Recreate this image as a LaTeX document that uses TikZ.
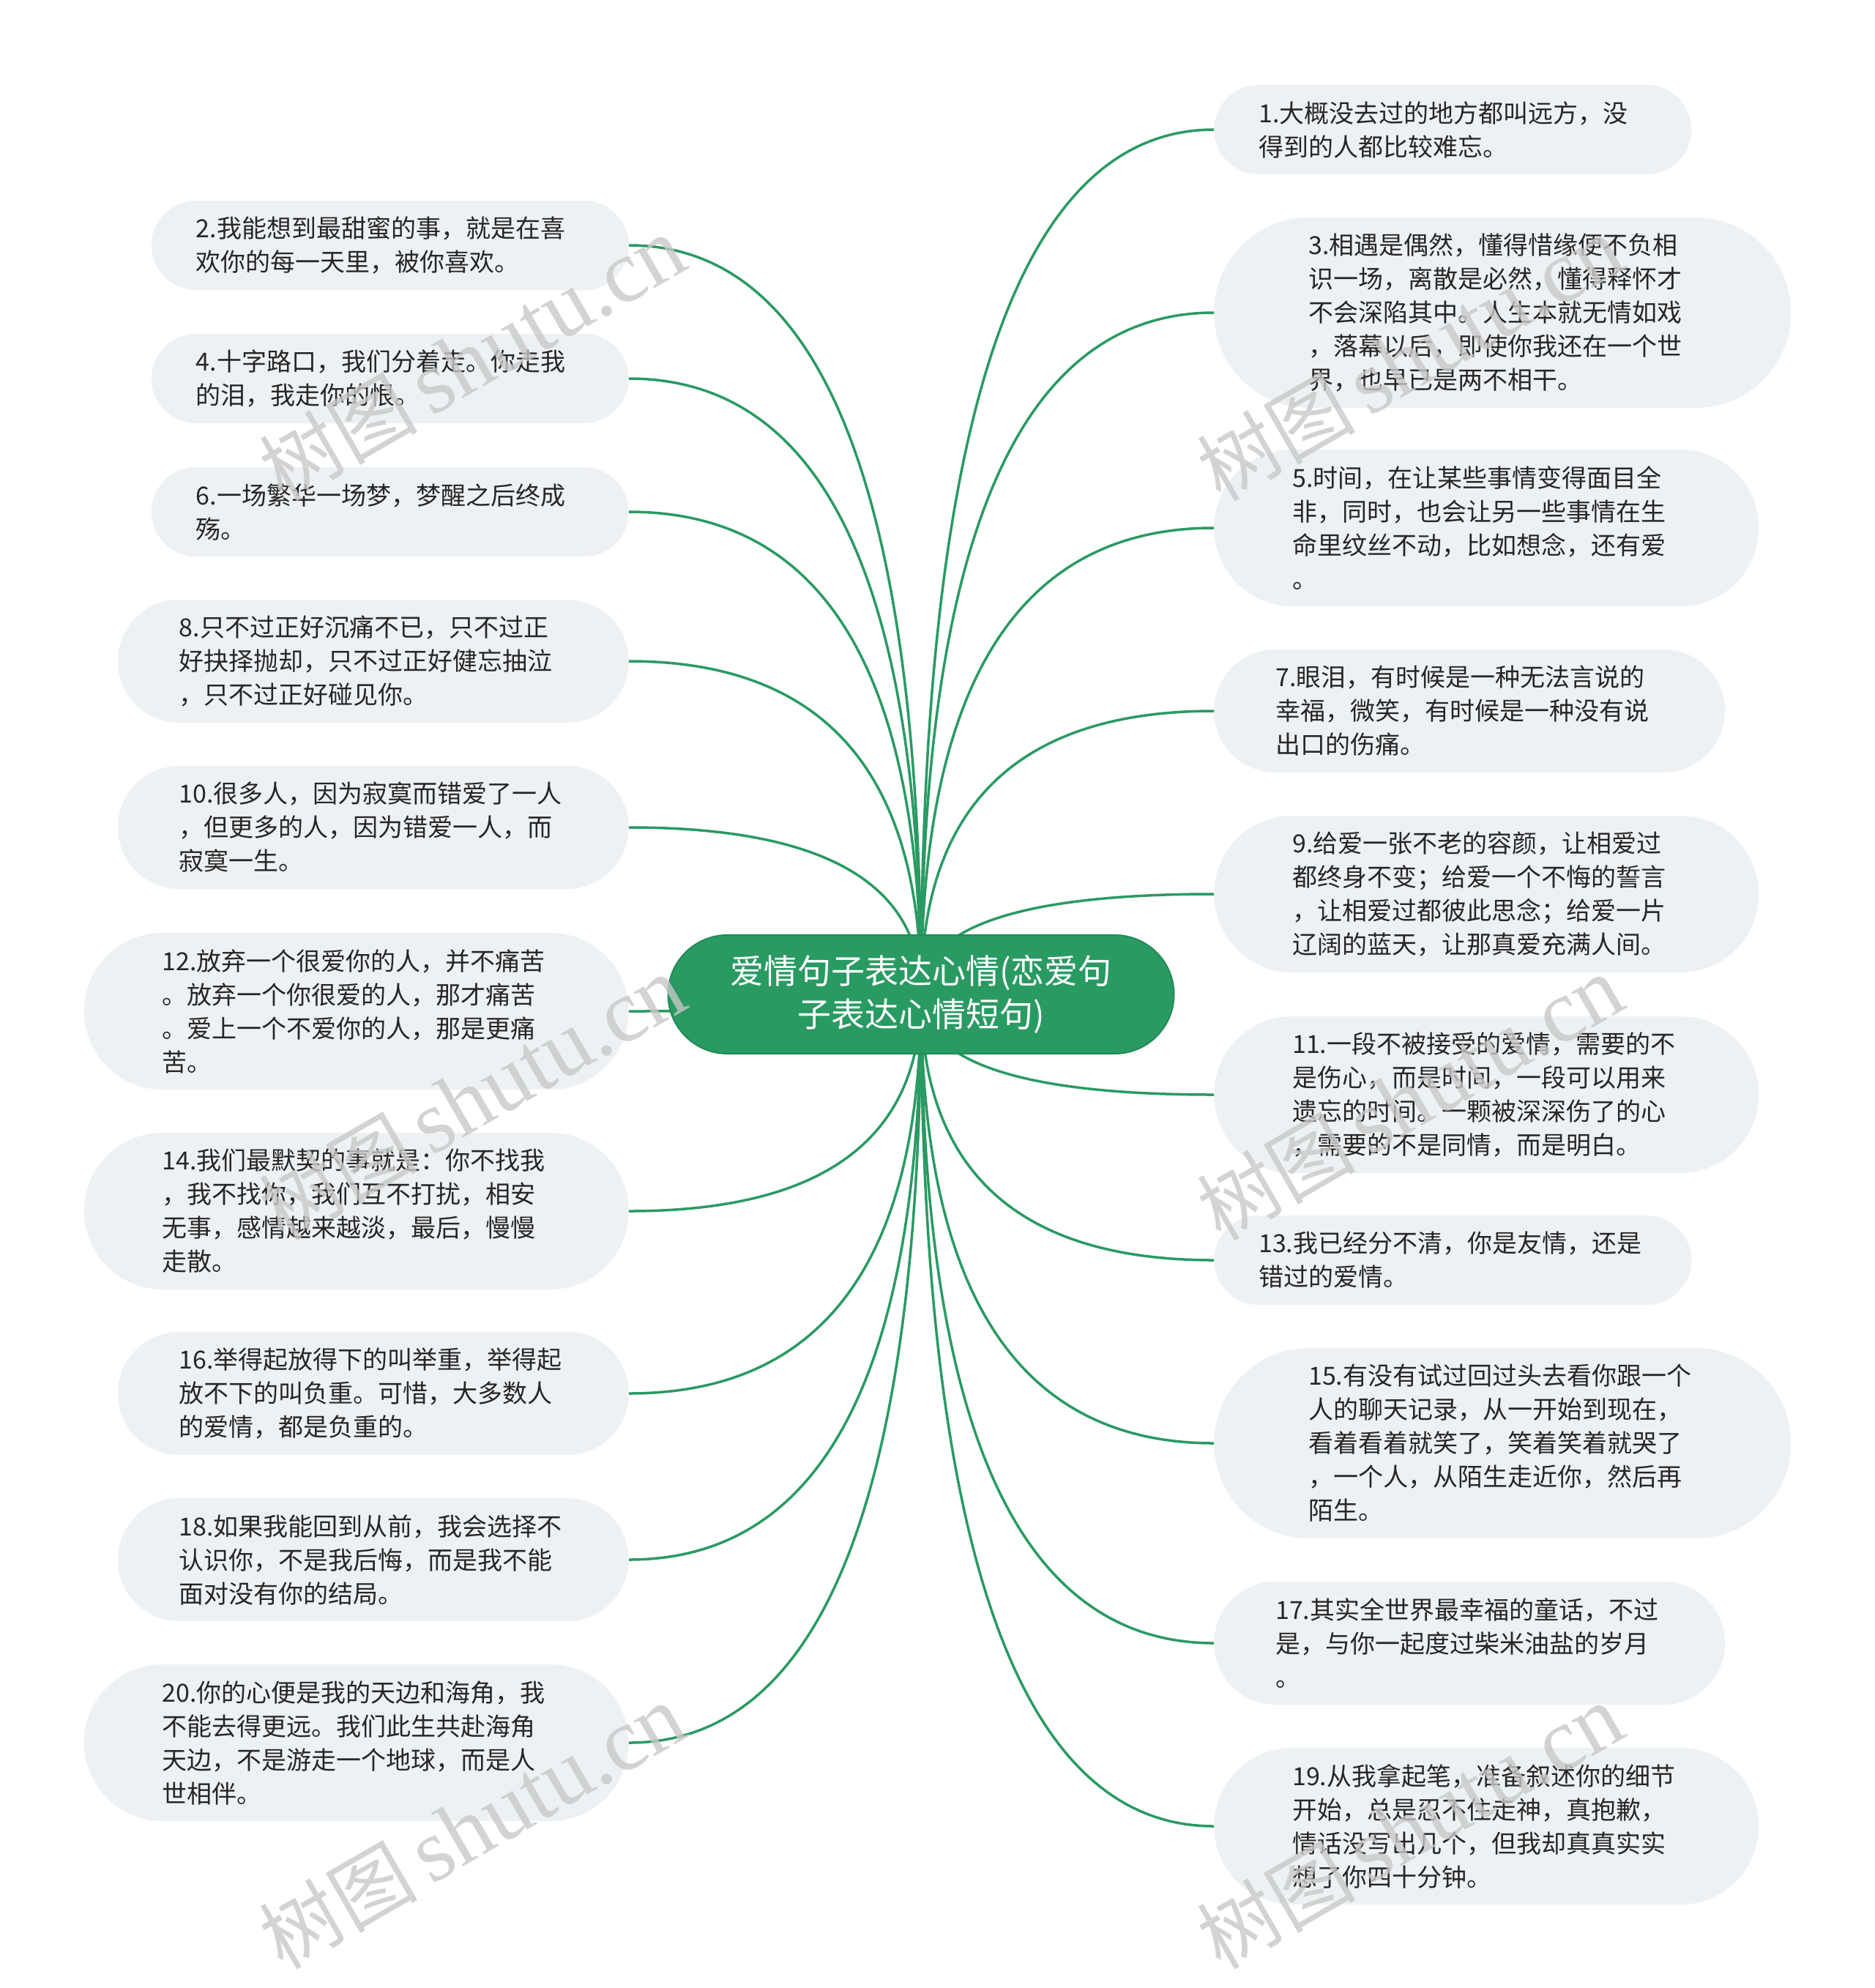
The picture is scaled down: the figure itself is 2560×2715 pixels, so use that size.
\documentclass[tikz,border=0pt]{standalone}
\usepackage{fontspec}
\newfontfamily\cjk{Noto Sans CJK SC}
\newfontfamily\wmserif{Liberation Serif}
\usetikzlibrary{calc,backgrounds}
\definecolor{leafc}{HTML}{EEF1F4}
\definecolor{greenc}{HTML}{2A9A63}
\definecolor{greenb}{HTML}{238A57}
\definecolor{txtc}{HTML}{262626}
\definecolor{wmc}{HTML}{C8C8C8}
\newcommand\linkto[2]{\draw[conn] (c.center) .. controls ($(c.center)!0.6667!(c.center|-#1.#2)$) and ($(#1.#2)!0.6667!(c.center|-#1.#2)$) .. (#1.#2);}
\begin{document}
\begin{tikzpicture}[x=1pt,y=-1pt,
  leaf/.style={fill=leafc, text=txtc, font=\cjk\fontsize{34}{46}\selectfont, text width=530pt, align=left, inner sep=0pt},
  Ltwo/.style={leaf, minimum width=652pt, minimum height=122pt, rounded corners=61pt},
  Lthree/.style={leaf, minimum width=698pt, minimum height=168pt, rounded corners=84pt},
  Lfour/.style={leaf, minimum width=744pt, minimum height=214pt, rounded corners=107pt},
  Lfive/.style={leaf, minimum width=788pt, minimum height=260pt, rounded corners=130pt},
  conn/.style={draw=greenc, line width=3.5pt},
  wm/.style={text=wmc, opacity=0.8, rotate=30, inner sep=0pt}
]
\useasboundingbox (0,0) rectangle (2560,2715);

% center
\node[fill=greenc, draw=greenb, line width=2pt, text=white, minimum width=691pt, minimum height=162pt, rounded corners=81pt, align=center, inner sep=0pt, font=\cjk\fontsize{46}{59}\selectfont] (c) at (1258,1358) {爱情句子表达心情(恋爱句\\子表达心情短句)};

% right nodes
\node[Ltwo, anchor=west] (n1) at (1658,177) {1.大概没去过的地方都叫远方，没\\得到的人都比较难忘。};
\node[Lfive, anchor=west] (n3) at (1658,427) {3.相遇是偶然，懂得惜缘便不负相\\识一场，离散是必然，懂得释怀才\\不会深陷其中。人生本就无情如戏\\，落幕以后，即使你我还在一个世\\界，也早已是两不相干。};
\node[Lfour, anchor=west] (n5) at (1658,721) {5.时间，在让某些事情变得面目全\\非，同时，也会让另一些事情在生\\命里纹丝不动，比如想念，还有爱\\。};
\node[Lthree, anchor=west] (n7) at (1658,971) {7.眼泪，有时候是一种无法言说的\\幸福，微笑，有时候是一种没有说\\出口的伤痛。};
\node[Lfour, anchor=west] (n9) at (1658,1221) {9.给爱一张不老的容颜，让相爱过\\都终身不变；给爱一个不悔的誓言\\，让相爱过都彼此思念；给爱一片\\辽阔的蓝天，让那真爱充满人间。};
\node[Lfour, anchor=west] (n11) at (1658,1495) {11.一段不被接受的爱情，需要的不\\是伤心，而是时间，一段可以用来\\遗忘的时间。一颗被深深伤了的心\\，需要的不是同情，而是明白。};
\node[Ltwo, anchor=west] (n13) at (1658,1721) {13.我已经分不清，你是友情，还是\\错过的爱情。};
\node[Lfive, anchor=west] (n15) at (1658,1971) {15.有没有试过回过头去看你跟一个\\人的聊天记录，从一开始到现在，\\看着看着就笑了，笑着笑着就哭了\\，一个人，从陌生走近你，然后再\\陌生。};
\node[Lthree, anchor=west] (n17) at (1658,2244) {17.其实全世界最幸福的童话，不过\\是，与你一起度过柴米油盐的岁月\\。};
\node[Lfour, anchor=west] (n19) at (1658,2494) {19.从我拿起笔，准备叙述你的细节\\开始，总是忍不住走神，真抱歉，\\情话没写出几个，但我却真真实实\\想了你四十分钟。};

% left nodes
\node[Ltwo, anchor=east] (n2) at (859,335) {2.我能想到最甜蜜的事，就是在喜\\欢你的每一天里，被你喜欢。};
\node[Ltwo, anchor=east] (n4) at (859,517) {4.十字路口，我们分着走。你走我\\的泪，我走你的恨。};
\node[Ltwo, anchor=east] (n6) at (859,699) {6.一场繁华一场梦，梦醒之后终成\\殇。};
\node[Lthree, anchor=east] (n8) at (859,903) {8.只不过正好沉痛不已，只不过正\\好抉择抛却，只不过正好健忘抽泣\\，只不过正好碰见你。};
\node[Lthree, anchor=east] (n10) at (859,1130) {10.很多人，因为寂寞而错爱了一人\\，但更多的人，因为错爱一人，而\\寂寞一生。};
\node[Lfour, anchor=east] (n12) at (859,1381) {12.放弃一个很爱你的人，并不痛苦\\。放弃一个你很爱的人，那才痛苦\\。爱上一个不爱你的人，那是更痛\\苦。};
\node[Lfour, anchor=east] (n14) at (859,1654) {14.我们最默契的事就是：你不找我\\，我不找你，我们互不打扰，相安\\无事，感情越来越淡，最后，慢慢\\走散。};
\node[Lthree, anchor=east] (n16) at (859,1903) {16.举得起放得下的叫举重，举得起\\放不下的叫负重。可惜，大多数人\\的爱情，都是负重的。};
\node[Lthree, anchor=east] (n18) at (859,2130) {18.如果我能回到从前，我会选择不\\认识你，不是我后悔，而是我不能\\面对没有你的结局。};
\node[Lfour, anchor=east] (n20) at (859,2380) {20.你的心便是我的天边和海角，我\\不能去得更远。我们此生共赴海角\\天边，不是游走一个地球，而是人\\世相伴。};

\begin{scope}[on background layer]
  \fill[white] (0,0) rectangle (2560,2715);
  \foreach \n in {n1,n3,n5,n7,n9,n11,n13,n15,n17,n19} {\linkto{\n}{west}}
  \foreach \n in {n2,n4,n6,n8,n10,n12,n14,n16,n18,n20} {\linkto{\n}{east}}
\end{scope}

% watermarks
\foreach \wx/\wy/\k in {645/490/a, 1926/490/b, 645/1500/c, 1926/1500/d, 645/2495/e, 1926/2495/f} {
  \node[wm] (wm\k) at (\wx,\wy) {{\cjk\fontsize{108}{108}\selectfont 树图}\hspace{18pt}{\wmserif\fontsize{122}{122}\selectfont shutu.cn}};
}
\end{tikzpicture}
\end{document}
